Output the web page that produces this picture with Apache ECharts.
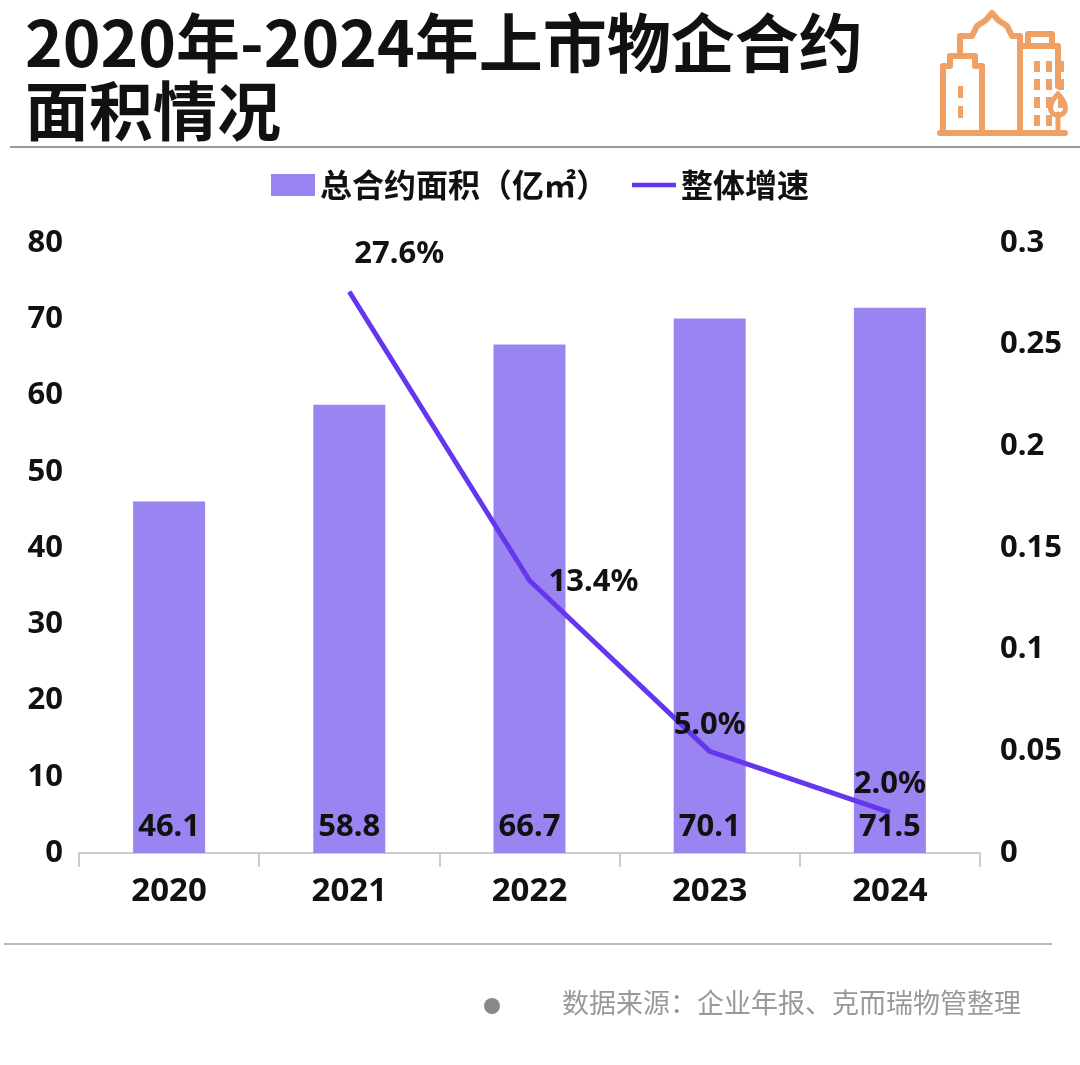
<!DOCTYPE html>
<html>
<head>
<meta charset="utf-8">
<script src="https://cdn.jsdelivr.net/npm/echarts@6/dist/echarts.min.js"></script>
<style>
  html, body { margin: 0; padding: 0; background: #fff; }
  #chart { width: 1080px; height: 1065px; }
</style>
</head>
<body>
<div id="chart"></div>
<script>
const years = ['2020', '2021', '2022', '2023', '2024'];
const areaValues = [46.1, 58.8, 66.7, 70.1, 71.5];
const growthValues = [null, 0.276, 0.134, 0.05, 0.02];
const growthLabels = ['', '27.6%', '13.4%', '5.0%', '2.0%'];
const leftTicks = [0, 10, 20, 30, 40, 50, 60, 70, 80];
const rightTicks = [0, 0.05, 0.1, 0.15, 0.2, 0.25, 0.3];

const BAR_COLOR = '#9A84F2';
const LINE_COLOR = '#6536EE';
const ICON = '#EFA064';
const FONT = '"Noto Sans", "Noto Sans CJK SC", sans-serif';
const CJK = '"Noto Sans CJK SC", sans-serif';

// per-point offsets for the growth labels
const growthLabelOffset = [
    [0, 0], [50, -8], [64, 32], [0, 4], [0, 2]
];

const chart = echarts.init(document.getElementById('chart'));

const lineData = growthValues.map((v, i) => ({
    value: v,
    label: {
        show: v != null,
        formatter: growthLabels[i],
        offset: growthLabelOffset[i],
    },
}));

const iconStroke = { stroke: ICON, lineWidth: 6, fill: null, lineJoin: 'round', lineCap: 'round' };

const windows = [];
for (let r = 0; r < 4; r++) {
    for (let c = 0; c < 3; c++) {
        if (r === 3 && c === 2) continue;
        windows.push({ type: 'rect', shape: { x: 94 + c * 12, y: 53 + r * 18, width: 6, height: 11 }, style: { fill: ICON } });
    }
}

chart.setOption({
    backgroundColor: '#fff',
    animation: false,
    title: {
        text: '2020年-2024年上市物企合约\n面积情况',
        left: 20,
        top: 4,
        textStyle: {
            fontFamily: CJK,
            fontSize: 64,
            fontWeight: 'bold',
            color: '#111',
            lineHeight: 68,
        },
    },
    legend: {
        top: 164,
        left: 'center',
        itemWidth: 44,
        itemHeight: 22,
        itemGap: 24,
        textStyle: { fontFamily: CJK, fontSize: 32, fontWeight: 'bold', color: '#111' },
        data: [
            { name: '总合约面积（亿㎡）', icon: 'rect' },
            { name: '整体增速', icon: 'path://M0,0 L48,0 L48,5 L0,5 Z', itemStyle: { color: LINE_COLOR } },
        ],
    },
    grid: { left: 79, right: 100, top: 243, bottom: 212, containLabel: false },
    xAxis: {
        type: 'category',
        data: years,
        axisLine: { lineStyle: { color: '#ccc', width: 2 } },
        axisTick: { show: true, length: 14, lineStyle: { color: '#ccc', width: 2 } },
        axisLabel: { color: '#111', fontFamily: FONT, fontSize: 33, fontWeight: 'bold', margin: 22 },
    },
    yAxis: [
        {
            type: 'value',
            min: leftTicks[0],
            max: leftTicks[leftTicks.length - 1],
            interval: 10,
            splitLine: { show: false },
            axisLine: { show: false },
            axisTick: { show: false },
            axisLabel: { color: '#111', fontFamily: FONT, fontSize: 31, fontWeight: 'bold', margin: 16 },
        },
        {
            type: 'value',
            min: rightTicks[0],
            max: rightTicks[rightTicks.length - 1],
            interval: 0.05,
            splitLine: { show: false },
            axisLine: { show: false },
            axisTick: { show: false },
            axisLabel: {
                color: '#111', fontFamily: FONT, fontSize: 31, fontWeight: 'bold', margin: 20,
                formatter: v => String(+v.toFixed(2)),
            },
        },
    ],
    series: [
        {
            name: '总合约面积（亿㎡）',
            type: 'bar',
            data: areaValues,
            barWidth: 72,
            itemStyle: { color: BAR_COLOR },
            label: {
                show: true,
                position: 'insideBottom',
                distance: 10,
                color: '#111',
                fontFamily: FONT,
                fontSize: 31,
                fontWeight: 'bold',
            },
        },
        {
            name: '整体增速',
            type: 'line',
            yAxisIndex: 1,
            data: lineData,
            symbol: 'circle',
            symbolSize: 1,
            showSymbol: true,
            connectNulls: false,
            lineStyle: { color: LINE_COLOR, width: 5 },
            itemStyle: { color: LINE_COLOR },
            label: {
                show: true,
                position: 'top',
                distance: 14,
                color: '#111',
                fontFamily: FONT,
                fontSize: 31,
                fontWeight: 'bold',
            },
            z: 3,
        },
    ],
    graphic: [
        // separators
        { type: 'line', shape: { x1: 10, y1: 147, x2: 1080, y2: 147 }, style: { stroke: '#999', lineWidth: 2 } },
        { type: 'line', shape: { x1: 4, y1: 944, x2: 1052, y2: 944 }, style: { stroke: '#bbb', lineWidth: 2 } },
        // footer
        { type: 'circle', shape: { cx: 492, cy: 1006, r: 8 }, style: { fill: '#888' } },
        {
            type: 'text', x: 562, y: 989,
            style: { text: '数据来源：企业年报、克而瑞物管整理', fill: '#999', font: '27px "Noto Sans CJK SC", sans-serif' },
        },
        // building icon
        {
            type: 'group',
            x: 940,
            y: 8,
            children: [
                { type: 'line', shape: { x1: 0, y1: 125, x2: 125, y2: 125 }, style: iconStroke },
                { type: 'polyline', shape: { points: [[3, 125], [3, 58], [10, 58], [10, 48], [35, 48], [35, 58], [42, 58], [42, 125]] }, style: iconStroke },
                { type: 'rect', shape: { x: 18, y: 78, width: 5, height: 12 }, style: { fill: ICON } },
                { type: 'rect', shape: { x: 18, y: 98, width: 5, height: 12 }, style: { fill: ICON } },
                { type: 'polyline', shape: { points: [[20, 48], [20, 28], [32, 28], [37, 18], [46, 12], [52, 5], [58, 12], [67, 18], [72, 28], [80, 28], [80, 125]] }, style: iconStroke },
                { type: 'polyline', shape: { points: [[80, 38], [118, 38], [118, 78]] }, style: iconStroke },
                { type: 'polyline', shape: { points: [[88, 38], [88, 26], [112, 26], [112, 38]] }, style: iconStroke },
                ...windows,
                { type: 'bezierCurve', shape: { x1: 118, y1: 86, x2: 118, y2: 107, cpx1: 108, cpy1: 96, cpx2: 108, cpy2: 107 }, style: Object.assign({}, iconStroke, { lineWidth: 5 }) },
                { type: 'bezierCurve', shape: { x1: 118, y1: 86, x2: 118, y2: 107, cpx1: 128, cpy1: 96, cpx2: 128, cpy2: 107 }, style: Object.assign({}, iconStroke, { lineWidth: 5 }) },
                { type: 'line', shape: { x1: 118, y1: 106, x2: 118, y2: 125 }, style: Object.assign({}, iconStroke, { lineWidth: 5 }) },
            ],
        },
    ],
});
</script>
</body>
</html>
